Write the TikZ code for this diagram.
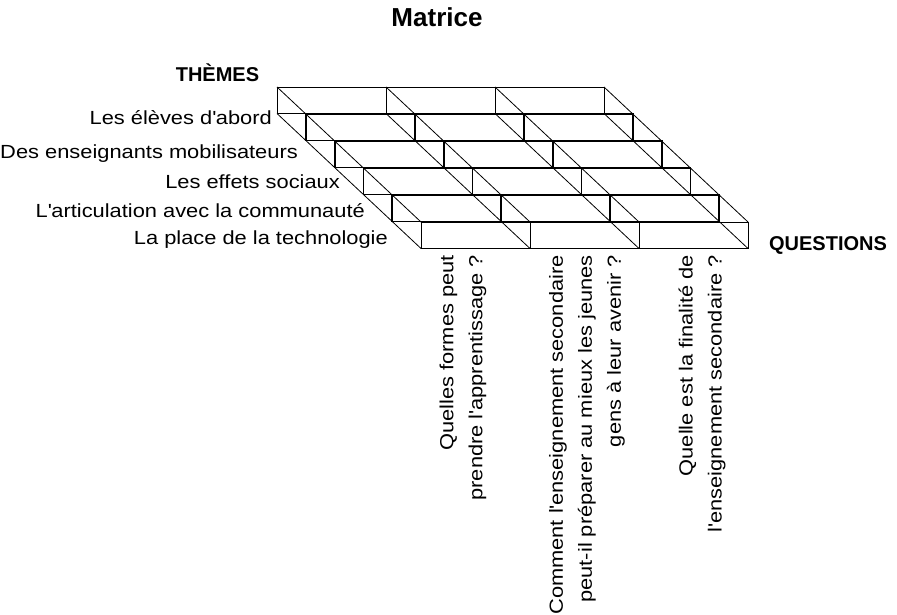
\documentclass[tikz,border=0pt]{standalone}
\usepackage{fontspec}
\setmainfont[FakeStretch=1.15]{Liberation Sans}
\newfontfamily\headfont{Liberation Sans}
\usepackage{tikz}

\tikzset{
  slab/.style={line width=0.8pt},
  inner slab/.style={line width=1.8pt},
  theme/.style={anchor=base east, inner sep=0pt, font=\fontsize{19}{29}\selectfont},
  question/.style={rotate=90, anchor=east, align=right, inner sep=0pt, font=\fontsize{19}{29}\selectfont},
  heading/.style={anchor=base, inner sep=0pt, font=\headfont\bfseries\fontsize{#1}{#1}\selectfont},
  heading/.default=20
}

\begin{document}
\begin{tikzpicture}[x=1pt, y=-1pt]
	\useasboundingbox (0,0) rectangle (897,615);
	% layers, back to front
	\draw[slab] (277,87) rectangle (604,113.5) (386,87) -- (386,113.5) (495,87) -- (495,113.5);
	\draw[inner slab] (305.8,114) rectangle (632.8,140.5) (414.8,114) -- (414.8,140.5) (523.8,114) -- (523.8,140.5);
	\draw[inner slab] (334.6,141) rectangle (661.6,167.5) (443.6,141) -- (443.6,167.5) (552.6,141) -- (552.6,167.5);
	\draw[inner slab] (363.4,168) rectangle (690.4,194.5) (472.4,168) -- (472.4,194.5) (581.4,168) -- (581.4,194.5);
	\draw[inner slab] (392.2,195) rectangle (719.2,221.5) (501.2,195) -- (501.2,221.5) (610.2,195) -- (610.2,221.5);
	\draw[slab] (421,222) rectangle (748,248.5) (530,222) -- (530,248.5) (639,222) -- (639,248.5);
	% depth edges
	\draw[slab] (277,87) -- (421,222);
	\draw[slab] (386,87) -- (530,222);
	\draw[slab] (495,87) -- (639,222);
	\draw[slab] (604,87) -- (748,222);
	\draw[slab] (277,113.5) -- (421,248.5);
	\draw[slab] (386,113.5) -- (530,248.5);
	\draw[slab] (495,113.5) -- (639,248.5);
	\draw[slab] (604,113.5) -- (748,248.5);

	\node[heading=26] (title) at (437,27) {Matrice};
	\node[heading] (themes) at (217.5,82) {THÈMES};
	\node[heading] (questions) at (828,250) {QUESTIONS};

	\node[theme] (eleves) at (272,125) {Les élèves d\textquotesingle abord};
	\node[theme] (enseignants) at (298,158) {Des enseignants mobilisateurs};
	\node[theme] (effets) at (340,188) {Les effets sociaux};
	\node[theme] (communaute) at (365,217) {L\textquotesingle articulation avec la communauté};
	\node[theme] (technologie) at (388,244) {La place de la technologie};

	\node[question] (formes) at (463,255) {Quelles formes peut\\prendre l\textquotesingle apprentissage ?};
	\node[question] (preparer) at (587,255) {Comment l\textquotesingle enseignement secondaire\\peut-il préparer au mieux les jeunes\\gens à leur avenir ?};
	\node[question] (finalite) at (702,255) {Quelle est la finalité de\\l\textquotesingle enseignement secondaire ?};
\end{tikzpicture}
\end{document}
